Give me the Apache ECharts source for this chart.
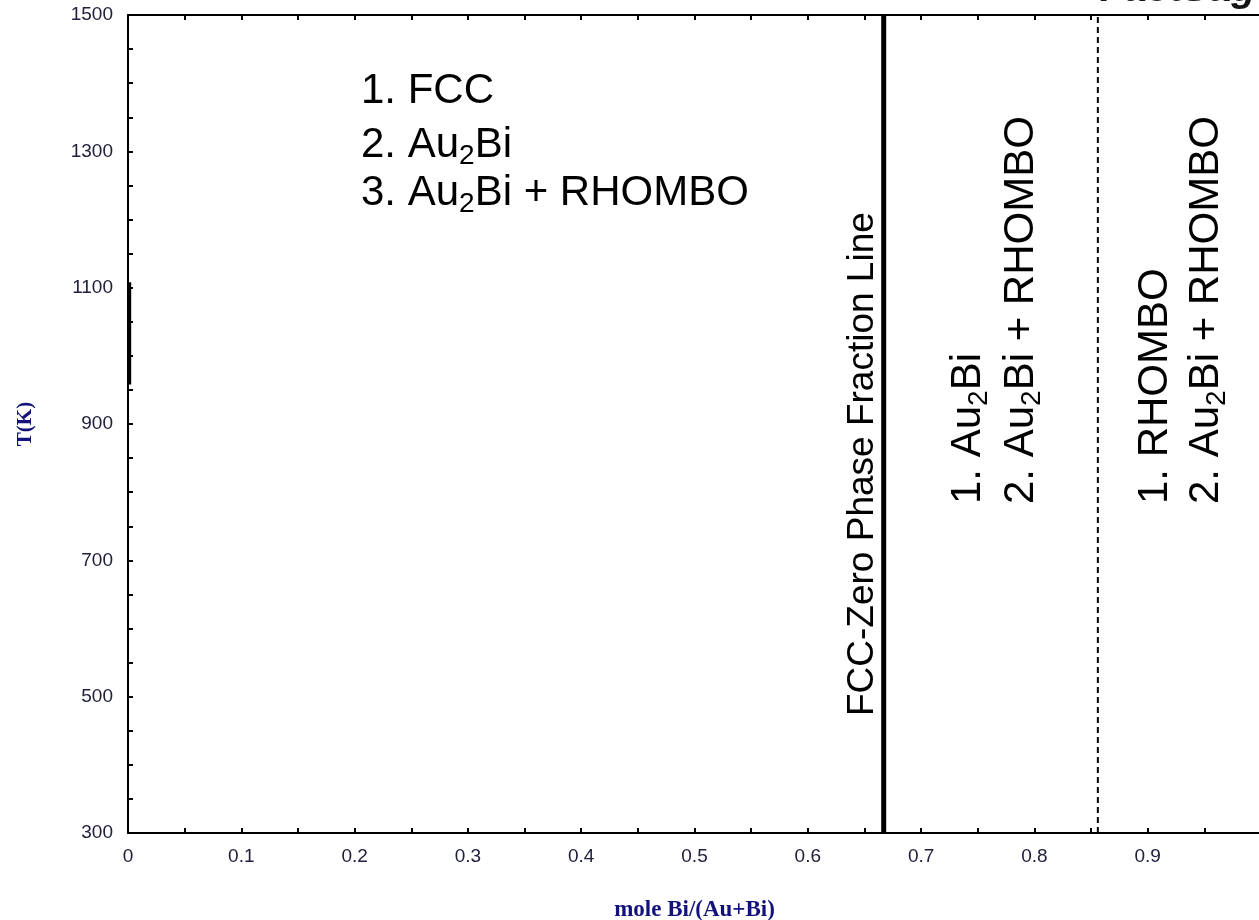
<!DOCTYPE html>
<html>
<head>
<meta charset="utf-8">
<title>Au-Bi phase fraction diagram</title>
<script src="https://cdn.jsdelivr.net/npm/echarts@6/dist/echarts.min.js"></script>
<style>
  html, body { margin: 0; padding: 0; background: #ffffff; }
  #chart { width: 1259px; height: 920px; }
</style>
</head>
<body>
<div id="chart"></div>
<script>
// Axis tick labels (ticks every 0.05 / 50 K, labels on these values only)
const xTickLabels = ['0', '0.1', '0.2', '0.3', '0.4', '0.5', '0.6', '0.7', '0.8', '0.9'];
const yTickLabels = ['300', '500', '700', '900', '1100', '1300', '1500'];

// FCC zero phase fraction line at the Au2Bi composition
const fccZeroX = [0.667, 0.667];
const fccZeroT = [300, 1500];

// Boundary between Au2Bi + RHOMBO and RHOMBO fields
const rhomboEdgeX = [0.856, 0.856];
const rhomboEdgeT = [300, 1500];

// Short phase line along the Au-rich edge
const auEdgeX = [0.0015, 0.0015];
const auEdgeT = [958, 1108];

// Phase field labels ({s|..} marks a subscript)
const fieldLeft = ['1. FCC', '2. Au{s|2}Bi', '3. Au{s|2}Bi + RHOMBO'];
const fieldMiddle = ['1. Au{s|2}Bi', '2. Au{s|2}Bi + RHOMBO'];
const fieldRight = ['1. RHOMBO', '2. Au{s|2}Bi + RHOMBO'];
const lineLabel = 'FCC-Zero Phase Fraction Line';

const chart = echarts.init(document.getElementById('chart'), null, { renderer: 'canvas' });

const labelFont = '"Liberation Sans", Arial, sans-serif';
const subRich = { s: { fontSize: 28, lineHeight: 27, verticalAlign: 'bottom' } };

function fieldText(str, x, y, size, rotated) {
  return {
    type: 'text',
    x: x,
    y: y,
    rotation: rotated ? Math.PI / 2 : 0,
    silent: true,
    z: 10,
    style: {
      text: str,
      fontFamily: labelFont,
      fontSize: size,
      lineHeight: 50,
      fill: '#000000',
      align: 'left',
      verticalAlign: 'middle',
      rich: subRich
    }
  };
}

function pairs(xs, ys) { return xs.map((v, i) => [v, ys[i]]); }

const xLabelFmt = v => {
  const s = String(Math.round(v * 100) / 100);
  return xTickLabels.indexOf(s) >= 0 ? s : '';
};
const yLabelFmt = v => {
  const s = String(Math.round(v));
  return yTickLabels.indexOf(s) >= 0 ? s : '';
};

const tickStyle = { inside: true, length: 5, lineStyle: { color: '#000', width: 2 } };
const lineStyleAxis = { show: true, onZero: false, lineStyle: { color: '#000', width: 2 } };

const option = {
  animation: false,
  backgroundColor: '#ffffff',
  grid: { left: 128, width: 1133, top: 15, height: 818, containLabel: false, outerBoundsMode: 'none' },
  xAxis: [
    {
      type: 'value', min: 0, max: 1, interval: 0.05, position: 'bottom',
      name: 'mole Bi/(Au+Bi)', nameLocation: 'middle', nameGap: 66,
      nameTextStyle: { fontFamily: '"Liberation Serif", "Times New Roman", serif', fontWeight: 'bold', fontSize: 23, color: '#12127a' },
      axisLine: lineStyleAxis, axisTick: tickStyle,
      axisLabel: { formatter: xLabelFmt, margin: 14, fontFamily: labelFont, fontSize: 19, color: '#20203c', showMaxLabel: false },
      splitLine: { show: false }
    },
    {
      type: 'value', min: 0, max: 1, interval: 0.05, position: 'top',
      axisLine: lineStyleAxis, axisTick: tickStyle,
      axisLabel: { show: false }, splitLine: { show: false }
    }
  ],
  yAxis: [
    {
      type: 'value', min: 300, max: 1500, interval: 50, position: 'left',
      name: 'T(K)', nameLocation: 'middle', nameGap: 92,
      nameTextStyle: { fontFamily: '"Liberation Serif", "Times New Roman", serif', fontWeight: 'bold', fontSize: 21, color: '#12127a' },
      axisLine: lineStyleAxis, axisTick: tickStyle,
      axisLabel: { formatter: yLabelFmt, margin: 15, fontFamily: labelFont, fontSize: 19, color: '#20203c' },
      splitLine: { show: false }
    }
  ],
  series: [
    {
      name: 'FCC zero phase fraction', type: 'line', data: pairs(fccZeroX, fccZeroT),
      showSymbol: false, symbol: 'none', lineStyle: { color: '#000', width: 5 }, z: 5
    },
    {
      name: 'RHOMBO boundary', type: 'line', data: pairs(rhomboEdgeX, rhomboEdgeT),
      showSymbol: false, symbol: 'none', lineStyle: { color: '#000', width: 2, type: [6, 4] }, z: 5
    },
    {
      name: 'Au edge', type: 'line', data: pairs(auEdgeX, auEdgeT),
      showSymbol: false, symbol: 'none', lineStyle: { color: '#000', width: 3 }, z: 5
    }
  ],
  graphic: [
    fieldText(fieldLeft[0], 361, 91, 42, false),
    fieldText(fieldLeft[1], 361, 145, 42, false),
    fieldText(fieldLeft[2], 361, 193, 42, false),
    {
      type: 'text', x: 863, y: 716, rotation: Math.PI / 2, silent: true, z: 10,
      style: { text: lineLabel, fontFamily: labelFont, fontSize: 37, fill: '#000', align: 'left', verticalAlign: 'middle' }
    },
    fieldText(fieldMiddle[0], 968, 504, 42, true),
    fieldText(fieldMiddle[1], 1021, 504, 42, true),
    fieldText(fieldRight[0], 1155, 504, 42, true),
    fieldText(fieldRight[1], 1206, 504, 42, true),
    {
      type: 'text', x: 1100, y: 10, silent: true, z: 10,
      style: { text: 'FactSage', fontFamily: labelFont, fontSize: 40, fontWeight: 'bold', fontStyle: 'italic', fill: '#141414', align: 'left', verticalAlign: 'bottom' }
    }
  ]
};

chart.setOption(option);
</script>
</body>
</html>
